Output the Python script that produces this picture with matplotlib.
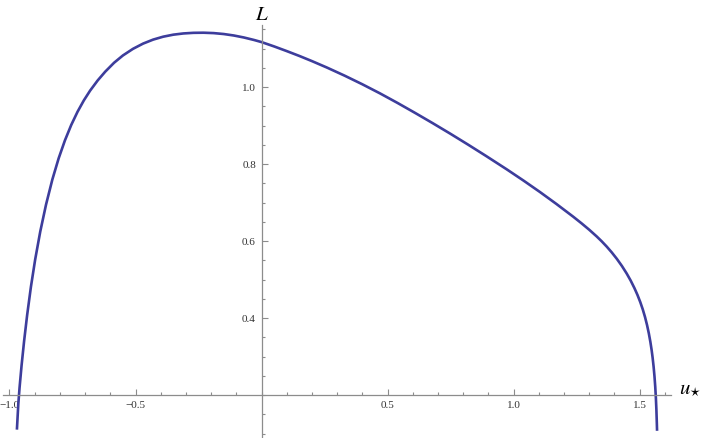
import numpy as np
import matplotlib
matplotlib.use("Agg")
import matplotlib.pyplot as plt
from matplotlib.ticker import FixedLocator, FixedFormatter

# ---- data (u_*, L) ----
u_vals = [-0.9706, -0.9650, -0.9600, -0.9520, -0.9420, -0.9300, -0.9150,
          -0.8980, -0.8780, -0.8550, -0.8300, -0.8050, -0.7800, -0.7550,
          -0.7300, -0.7050, -0.6800, -0.6500, -0.6200, -0.5850, -0.5500,
          -0.5100, -0.4700, -0.4300, -0.3900, -0.3500, -0.3100, -0.2700,
          -0.2300, -0.1900, -0.1500, -0.1100, -0.0700, -0.0300, 0.0000,
          0.0500, 0.1000, 0.1500, 0.2000, 0.2600, 0.3300, 0.4000, 0.4700,
          0.5400, 0.6100, 0.6800, 0.7500, 0.8200, 0.8900, 0.9730, 1.0400,
          1.1050, 1.1700, 1.2370, 1.2700, 1.3000, 1.3300, 1.3500, 1.3700,
          1.3900, 1.4100, 1.4300, 1.4490, 1.4650, 1.4800, 1.4920, 1.5030,
          1.5130, 1.5220, 1.5300, 1.5370, 1.5430, 1.5480, 1.5520, 1.5560,
          1.5595, 1.5625, 1.5650, 1.5670, 1.5688, 1.5697]
L_vals = [0.1100, 0.1772, 0.2197, 0.2773, 0.3403, 0.4075, 0.4810,
          0.5524, 0.6244, 0.6946, 0.7596, 0.8146, 0.8614, 0.9014,
          0.9357, 0.9652, 0.9907, 1.0171, 1.0399, 1.0630, 1.0819,
          1.0991, 1.1127, 1.1231, 1.1307, 1.1359, 1.1391, 1.1407,
          1.1410, 1.1400, 1.1376, 1.1338, 1.1286, 1.1222, 1.1167,
          1.1054, 1.0933, 1.0807, 1.0673, 1.0504, 1.0294, 1.0071, 0.9835,
          0.9585, 0.9325, 0.9058, 0.8784, 0.8502, 0.8213, 0.7862, 0.7568,
          0.7272, 0.6963, 0.6631, 0.6459, 0.6295, 0.6119, 0.5992, 0.5854,
          0.5703, 0.5537, 0.5353, 0.5157, 0.4972, 0.4775, 0.4598, 0.4414,
          0.4223, 0.4023, 0.3815, 0.3601, 0.3385, 0.3173, 0.2973, 0.2735,
          0.2481, 0.2211, 0.1923, 0.1623, 0.1263, 0.1070]

x_major = [-1.0, -0.5, 0.5, 1.0, 1.5]
x_major_labels = ["\u22121.0", "\u22120.5", "0.5", "1.0", "1.5"]
y_major = [0.4, 0.6, 0.8, 1.0]
y_major_labels = ["0.4", "0.6", "0.8", "1.0"]

W, H = 702, 438
fig = plt.figure(figsize=(W / 100, H / 100), dpi=100)
# axes area in pixels: x 3..670, y(top) 25..437
left_px, right_px, top_px, bot_px = 3, 670.5, 25, 437
ax = fig.add_axes([left_px / W, (H - bot_px) / H,
                   (right_px - left_px) / W, (bot_px - top_px) / H])

# data mapping
x0_px, px_per_x = 261.5, 252.0
yaxis_py, py_per_y, y_cross = 395.0, 385.0, 0.2
xlim = ((left_px - x0_px) / px_per_x, (right_px - x0_px) / px_per_x)
ylim = (y_cross - (bot_px - yaxis_py) / py_per_y,
        y_cross + (yaxis_py - top_px) / py_per_y)
ax.set_xlim(*xlim)
ax.set_ylim(*ylim)

ax.plot(u_vals, L_vals, color="#3d3d9c", lw=1.9, solid_capstyle="butt",
        solid_joinstyle="round", clip_on=False)

axis_col = "#8c8c8c"
for s in ["top", "right"]:
    ax.spines[s].set_visible(False)
ax.spines["left"].set_position(("data", 0.0))
ax.spines["bottom"].set_position(("data", y_cross))
for s in ["left", "bottom"]:
    ax.spines[s].set_color(axis_col)
    ax.spines[s].set_linewidth(0.9)
ax.patch.set_visible(False)

ax.xaxis.set_major_locator(FixedLocator(x_major))
ax.xaxis.set_major_formatter(FixedFormatter(x_major_labels))
ax.xaxis.set_minor_locator(FixedLocator(np.round(np.arange(-1.0, 1.61, 0.1), 2)))
ax.yaxis.set_major_locator(FixedLocator(y_major))
ax.yaxis.set_major_formatter(FixedFormatter(y_major_labels))
ax.yaxis.set_minor_locator(FixedLocator(np.round(np.arange(0.1, 1.16, 0.05), 2)))

ax.tick_params(which="both", direction="in", color=axis_col, width=0.8)
ax.tick_params(which="major", length=4, labelsize=8, labelcolor="#333333", pad=4)
ax.tick_params(which="minor", length=2.5)
for lab in ax.get_xticklabels() + ax.get_yticklabels():
    lab.set_fontfamily("Liberation Serif")

plt.rcParams["mathtext.fontset"] = "stix"
fig.text(262 / W, 1 - 14 / H, "$L$", ha="center", va="center", fontsize=15)
fig.text(679 / W, 1 - 389 / H, r"$u_{\star}$", ha="left", va="center",
         fontsize=15)

fig.savefig("out.png", dpi=100, facecolor="white")
